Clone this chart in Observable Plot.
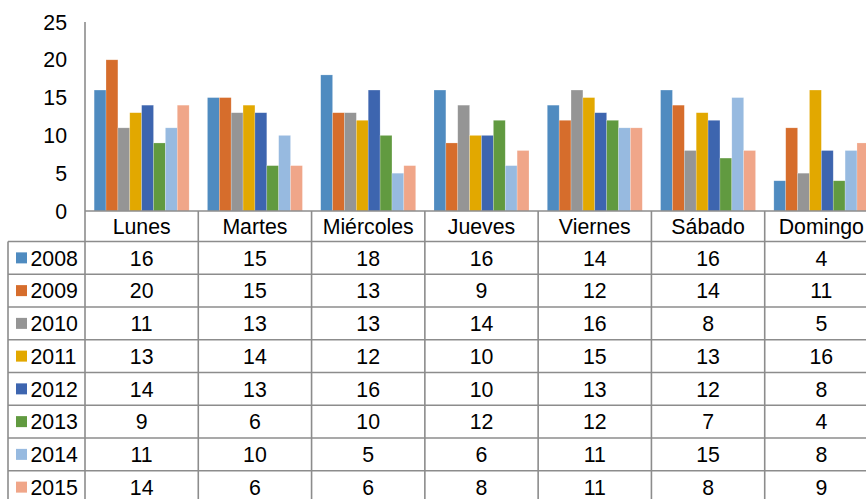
<!DOCTYPE html>
<html>
<head>
<meta charset="utf-8">
<script src="https://cdn.jsdelivr.net/npm/d3@7"></script>
<script src="https://cdn.jsdelivr.net/npm/@observablehq/plot@0.6"></script>
<style>
  html, body { margin: 0; padding: 0; background: #fff; }
  svg { display: block; }
</style>
</head>
<body>
<div id="chart"></div>
<script>
// ---- data ----
const days = ["Lunes", "Martes", "Miércoles", "Jueves", "Viernes", "Sábado", "Domingo"];
const years = ["2008", "2009", "2010", "2011", "2012", "2013", "2014", "2015"];
const v2008 = [16, 15, 18, 16, 14, 16, 4];
const v2009 = [20, 15, 13, 9, 12, 14, 11];
const v2010 = [11, 13, 13, 14, 16, 8, 5];
const v2011 = [13, 14, 12, 10, 15, 13, 16];
const v2012 = [14, 13, 16, 10, 13, 12, 8];
const v2013 = [9, 6, 10, 12, 12, 7, 4];
const v2014 = [11, 10, 5, 6, 11, 15, 8];
const v2015 = [14, 6, 6, 8, 11, 8, 9];
const yTicks = [0, 5, 10, 15, 20, 25];
const colors = ["#4F8BC0", "#D66D2C", "#959595", "#E2A800", "#3D65AF", "#619A40", "#97BAE0", "#F0A689"];

const series = [v2008, v2009, v2010, v2011, v2012, v2013, v2014, v2015];
const data = [];
years.forEach((yr, i) => days.forEach((d, j) => data.push({day: d, year: yr, value: series[i][j]})));

// ---- layout ----
const W = 866, H = 499;
const FONT = "'Liberation Sans', Arial, sans-serif";
const FS = 21.3;
const lineColor = "#8c8c8c";

const plot = Plot.plot({
  width: W,
  height: H,
  marginLeft: 85,
  marginRight: -12,
  marginTop: 22,
  marginBottom: 288,
  style: {fontFamily: FONT, fontSize: FS + "px", color: "#000", background: "#fff", overflow: "hidden"},
  fx: {domain: days, padding: 0, round: false, axis: null, label: null},
  x: {domain: years, paddingInner: 0, paddingOuter: 0.77, round: false, axis: null},
  y: {domain: [0, 25], axis: null},
  color: {domain: years, range: colors},
  marks: [
    Plot.barY(data, {fx: "day", x: "year", y: "value", fill: "year", stroke: "#ffffff", strokeOpacity: 0.35, strokeWidth: 0.6})
  ]
});
document.getElementById("chart").appendChild(plot);

// ---- axis labels and data table drawn with the plot's own scales ----
const fx = plot.scale("fx");
const ys = plot.scale("y");
const bw = fx.bandwidth;
const x0 = fx.apply(days[0]);
const y0 = ys.apply(0);
const yTop = ys.apply(25);
const headerH = 30.5;
const rowH = 32.75;
const tableLeft = 8;

const svg = d3.select(plot);
const g = svg.append("g").attr("font-family", FONT).attr("font-size", FS + "px").attr("fill", "#000");

// y tick labels
yTicks.forEach(t => {
  g.append("text")
    .attr("x", x0 - 18)
    .attr("y", ys.apply(t))
    .attr("dy", "0.36em")
    .attr("text-anchor", "end")
    .text(t);
});

// lines
const lines = g.append("g").attr("stroke", lineColor).attr("stroke-width", 1.6).attr("fill", "none");
lines.append("line").attr("x1", x0).attr("x2", x0).attr("y1", yTop).attr("y2", H);
lines.append("line").attr("x1", x0).attr("x2", W).attr("y1", y0).attr("y2", y0);
lines.append("line").attr("x1", tableLeft).attr("x2", tableLeft).attr("y1", y0 + headerH).attr("y2", H);
days.forEach(d => {
  const xr = fx.apply(d) + bw;
  lines.append("line").attr("x1", xr).attr("x2", xr).attr("y1", y0).attr("y2", H);
});
for (let r = 0; r <= years.length; r++) {
  const yy = y0 + headerH + r * rowH;
  lines.append("line").attr("x1", tableLeft).attr("x2", W).attr("y1", yy).attr("y2", yy);
}

// header
days.forEach(d => {
  g.append("text")
    .attr("x", fx.apply(d) + bw / 2)
    .attr("y", y0 + headerH / 2)
    .attr("dy", "0.36em")
    .attr("text-anchor", "middle")
    .text(d);
});

// rows
years.forEach((yr, i) => {
  const cy = y0 + headerH + i * rowH + rowH / 2;
  g.append("rect").attr("x", 16).attr("y", cy - 5.5).attr("width", 11).attr("height", 11).attr("fill", colors[i]);
  g.append("text").attr("x", 30.5).attr("y", cy).attr("dy", "0.36em").attr("text-anchor", "start").text(yr);
  days.forEach((d, j) => {
    g.append("text")
      .attr("x", fx.apply(d) + bw / 2)
      .attr("y", cy)
      .attr("dy", "0.36em")
      .attr("text-anchor", "middle")
      .text(series[i][j]);
  });
});
</script>
</body>
</html>
